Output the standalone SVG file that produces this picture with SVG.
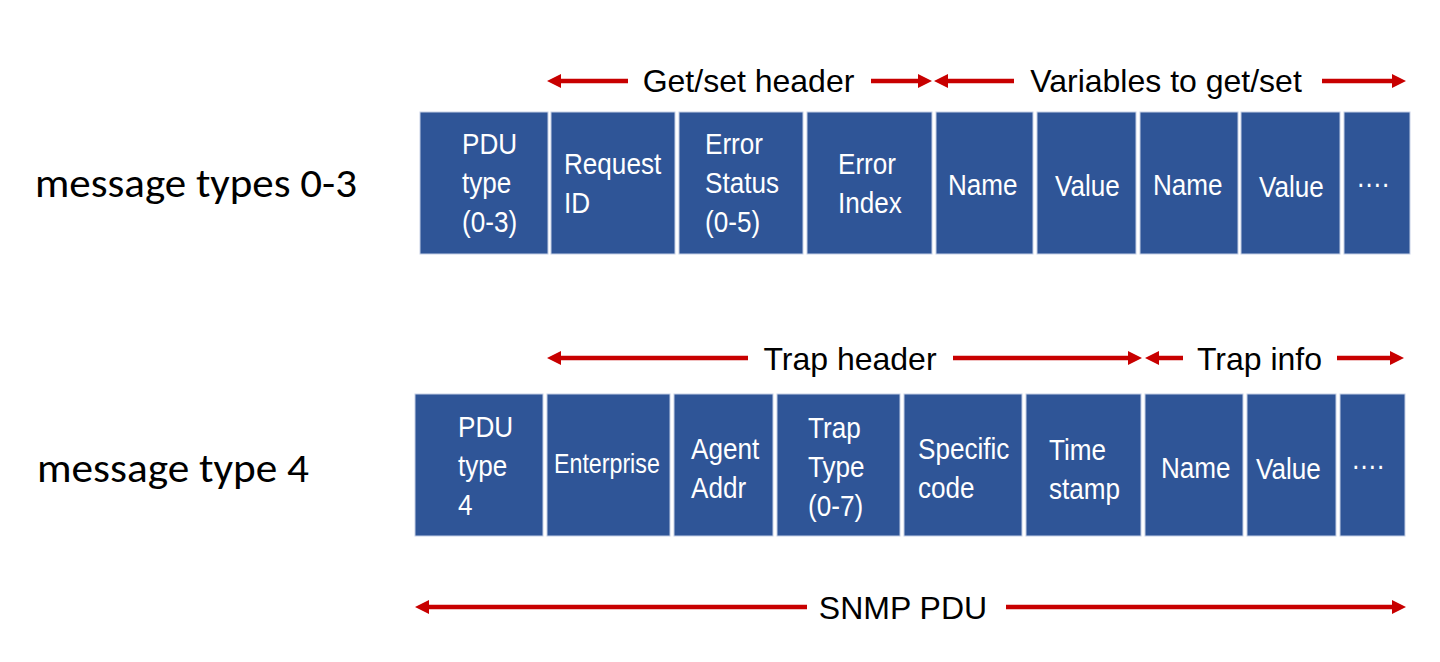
<svg xmlns="http://www.w3.org/2000/svg" width="1440" height="662" viewBox="0 0 1440 662">
<style>
  .box{fill:#2F5597;stroke:#C5D0E6;stroke-width:1}
  .bt{font-family:"Liberation Sans",Arial,sans-serif;font-size:30px;fill:#ffffff}
  .hd{font-family:"Liberation Sans",Arial,sans-serif;font-size:32px;fill:#000000;text-anchor:middle}
  .lbl{font-family:Carlito,Lato,"Liberation Sans",sans-serif;font-size:42px;fill:#000000}
  .ln{stroke:#C80000;stroke-width:4.5;fill:none}
  .ah{fill:#C80000}
</style>
<defs>
  <path id="hl" d="M0,0 L14,-7 L14,7 Z"/>
  <path id="hr" d="M0,0 L-14,-7 L-14,7 Z"/>
</defs>
<rect width="1440" height="662" fill="#ffffff"/>

<text class="lbl" x="35" y="197" textLength="322" lengthAdjust="spacingAndGlyphs">message types 0-3</text>
<text class="lbl" x="37" y="482" textLength="272" lengthAdjust="spacingAndGlyphs">message type 4</text>

<g id="labels">
  <text class="hd" x="748.5" y="92">Get/set header</text>
  <text class="hd" x="1166" y="92">Variables to get/set</text>
  <text class="hd" x="850" y="370">Trap header</text>
  <text class="hd" x="1259.5" y="370">Trap info</text>
  <text class="hd" x="903" y="619">SNMP PDU</text>
</g>

<g id="connectors">
  <line class="ln" x1="558" y1="81" x2="628" y2="81"/><use href="#hl" class="ah" x="547" y="81"/>
  <line class="ln" x1="871" y1="81" x2="921" y2="81"/><use href="#hr" class="ah" x="932" y="81"/>
  <line class="ln" x1="945" y1="81" x2="1014" y2="81"/><use href="#hl" class="ah" x="934" y="81"/>
  <line class="ln" x1="1322" y1="81" x2="1395" y2="81"/><use href="#hr" class="ah" x="1406" y="81"/>

  <line class="ln" x1="558" y1="358" x2="748" y2="358"/><use href="#hl" class="ah" x="547" y="358"/>
  <line class="ln" x1="953" y1="358" x2="1131" y2="358"/><use href="#hr" class="ah" x="1142" y="358"/>
  <line class="ln" x1="1156" y1="358" x2="1183" y2="358"/><use href="#hl" class="ah" x="1145" y="358"/>
  <line class="ln" x1="1337" y1="358" x2="1393" y2="358"/><use href="#hr" class="ah" x="1404" y="358"/>

  <line class="ln" x1="426" y1="607" x2="807" y2="607"/><use href="#hl" class="ah" x="415" y="607"/>
  <line class="ln" x1="1006" y1="607" x2="1395" y2="607"/><use href="#hr" class="ah" x="1406" y="607"/>
</g>

<!-- Top row: message types 0-3 -->
<g id="t-pdu"><rect class="box" x="420" y="112" width="128" height="142"/>
  <text class="bt" transform="translate(462 0) scale(.87 1)"><tspan x="0" y="154">PDU</tspan><tspan x="0" y="193">type</tspan><tspan x="0" y="232">(0-3)</tspan></text></g>
<g id="t-reqid"><rect class="box" x="551" y="112" width="124" height="142"/>
  <text class="bt" transform="translate(564 0) scale(.87 1)"><tspan x="0" y="174">Request</tspan><tspan x="0" y="213">ID</tspan></text></g>
<g id="t-errstatus"><rect class="box" x="679" y="112" width="124" height="142"/>
  <text class="bt" transform="translate(705 0) scale(.87 1)"><tspan x="0" y="154">Error</tspan><tspan x="0" y="193">Status</tspan><tspan x="0" y="232">(0-5)</tspan></text></g>
<g id="t-errindex"><rect class="box" x="807" y="112" width="125" height="142"/>
  <text class="bt" transform="translate(838 0) scale(.87 1)"><tspan x="0" y="174">Error</tspan><tspan x="0" y="213">Index</tspan></text></g>
<g id="t-name1"><rect class="box" x="936" y="112" width="97" height="142"/>
  <text class="bt" transform="translate(948 0) scale(.87 1)"><tspan x="0" y="195">Name</tspan></text></g>
<g id="t-value1"><rect class="box" x="1037" y="112" width="99" height="142"/>
  <text class="bt" transform="translate(1055 0) scale(.87 1)"><tspan x="0" y="196">Value</tspan></text></g>
<g id="t-name2"><rect class="box" x="1140" y="112" width="98" height="142"/>
  <text class="bt" transform="translate(1153 0) scale(.87 1)"><tspan x="0" y="195">Name</tspan></text></g>
<g id="t-value2"><rect class="box" x="1241" y="112" width="99" height="142"/>
  <text class="bt" transform="translate(1259 0) scale(.87 1)"><tspan x="0" y="197">Value</tspan></text></g>
<g id="t-more"><rect class="box" x="1344" y="112" width="66" height="142"/>
  <text class="bt" transform="translate(1356 0) scale(.87 1)"><tspan x="0" y="187">….</tspan></text></g>

<!-- Bottom row: message type 4 -->
<g id="b-pdu"><rect class="box" x="415" y="394" width="128" height="142"/>
  <text class="bt" transform="translate(458 0) scale(.87 1)"><tspan x="0" y="437">PDU</tspan><tspan x="0" y="476">type</tspan><tspan x="0" y="515">4</tspan></text></g>
<g id="b-enterprise"><rect class="box" x="547" y="394" width="123" height="142"/>
  <text class="bt" style="font-size:27px" transform="translate(554 0) scale(.86 1)"><tspan x="0" y="473">Enterprise</tspan></text></g>
<g id="b-agent"><rect class="box" x="674" y="394" width="99" height="142"/>
  <text class="bt" transform="translate(691 0) scale(.87 1)"><tspan x="0" y="459">Agent</tspan><tspan x="0" y="498">Addr</tspan></text></g>
<g id="b-traptype"><rect class="box" x="777" y="394" width="123" height="142"/>
  <text class="bt" transform="translate(808 0) scale(.87 1)"><tspan x="0" y="438">Trap</tspan><tspan x="0" y="477">Type</tspan><tspan x="0" y="516">(0-7)</tspan></text></g>
<g id="b-specific"><rect class="box" x="904" y="394" width="118" height="142"/>
  <text class="bt" transform="translate(918 0) scale(.87 1)"><tspan x="0" y="459">Specific</tspan><tspan x="0" y="498">code</tspan></text></g>
<g id="b-timestamp"><rect class="box" x="1026" y="394" width="115" height="142"/>
  <text class="bt" transform="translate(1049 0) scale(.87 1)"><tspan x="0" y="460">Time</tspan><tspan x="0" y="499">stamp</tspan></text></g>
<g id="b-name"><rect class="box" x="1145" y="394" width="98" height="142"/>
  <text class="bt" transform="translate(1161 0) scale(.87 1)"><tspan x="0" y="478">Name</tspan></text></g>
<g id="b-value"><rect class="box" x="1247" y="394" width="89" height="142"/>
  <text class="bt" transform="translate(1256 0) scale(.87 1)"><tspan x="0" y="479">Value</tspan></text></g>
<g id="b-more"><rect class="box" x="1340" y="394" width="65" height="142"/>
  <text class="bt" transform="translate(1351 0) scale(.87 1)"><tspan x="0" y="469">….</tspan></text></g>
</svg>
